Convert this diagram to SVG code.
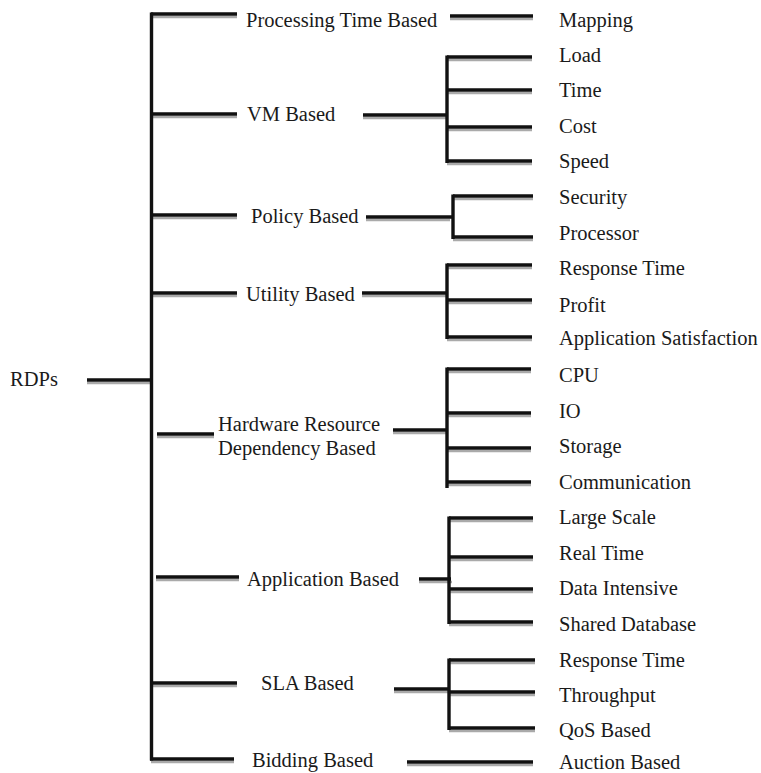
<svg xmlns="http://www.w3.org/2000/svg" width="761" height="773" viewBox="0 0 761 773">
  <style>
    text { font-family: "Liberation Serif", "Times New Roman", serif; font-size: 20.5px; fill: #1a1a1a; }
    .h { stroke: #111; stroke-width: 3.4; fill: none; }
    .sh { stroke: #aaa; stroke-width: 2.6; fill: none; }
    .v { stroke: #111; stroke-width: 3.4; fill: none; }
  </style>

  <g id="connectors">
    <!-- grey drop lines, 3px below each horizontal bar -->
    <path class="sh" d="
      M151 17 H237 M151 117 H237 M151 218 H237 M151 296 H237
      M87 383 H151 M157 437 H214 M156 580 H239 M151 686 H237 M151 762 H234
      M450 19 H533 M363 118 H447 M366 220 H450 M362 296 H447
      M393 433 H447 M419 582 H452 M394 692 H449 M407 765 H533
      M447 60 H532 M447 93 H532 M447 130 H532 M447 164 H532
      M453 199 H533 M453 240 H533
      M447 268 H532 M447 303 H532 M447 340 H532
      M447 372 H531 M447 416 H531 M447 451 H531 M447 485 H531
      M449 521 H533 M449 560 H533 M449 592 H533 M449 625 H533
      M449 663 H535 M449 695 H535 M449 731 H535"/>
    <!-- trunk -->
    <path class="v" d="M151.5 12.5 V760.5"/>
    <!-- first-level bars -->
    <path class="h" d="
      M151 14 H237 M151 114 H237 M151 215 H237 M151 293 H237
      M87 380 H151 M157 434 H214 M156 577 H239 M151 683 H237 M150 759 H234"/>
    <!-- second-level bars -->
    <path class="h" d="
      M450 16 H533 M363 115 H447 M366 217 H452 M362 293 H447
      M393 430 H447 M419 579 H451 M394 689 H449 M407 762 H533"/>
    <!-- brackets -->
    <path class="v" d="
      M447 55.5 V163 M453 194.5 V239 M447 263.5 V339 M447 367.5 V488
      M449 516.5 V624 M449 658.5 V730"/>
    <!-- leaf bars -->
    <path class="h" d="
      M447 57 H532 M447 90 H532 M447 127 H532 M447 161 H532
      M453 196 H533 M453 237 H533
      M447 265 H532 M447 300 H532 M447 337 H532
      M447 369 H531 M447 413 H531 M447 448 H531 M447 482 H531
      M449 518 H533 M449 557 H533 M449 589 H533 M449 622 H533
      M449 660 H535 M449 692 H535 M449 728 H535"/>
  </g>

  <g id="root"><text x="10" y="386">RDPs</text></g>

  <g id="processing-time"><text x="246" y="27">Processing Time Based</text></g>
  <g id="vm"><text x="247" y="121">VM Based</text></g>
  <g id="policy"><text x="251" y="223">Policy Based</text></g>
  <g id="utility"><text x="246" y="301">Utility Based</text></g>
  <g id="hardware"><text x="218" y="431">Hardware Resource</text><text x="218" y="455">Dependency Based</text></g>
  <g id="application"><text x="247" y="586">Application Based</text></g>
  <g id="sla"><text x="261" y="690">SLA Based</text></g>
  <g id="bidding"><text x="252" y="767">Bidding Based</text></g>

  <g id="leaves">
    <g id="mapping"><text x="559" y="27">Mapping</text></g>
    <g id="load"><text x="559" y="62">Load</text></g>
    <g id="time"><text x="559" y="97">Time</text></g>
    <g id="cost"><text x="559" y="133">Cost</text></g>
    <g id="speed"><text x="559" y="168">Speed</text></g>
    <g id="security"><text x="559" y="204">Security</text></g>
    <g id="processor"><text x="559" y="240">Processor</text></g>
    <g id="util-response"><text x="559" y="275">Response Time</text></g>
    <g id="profit"><text x="559" y="312">Profit</text></g>
    <g id="app-satisfaction"><text x="559" y="345">Application Satisfaction</text></g>
    <g id="cpu"><text x="559" y="382">CPU</text></g>
    <g id="io"><text x="559" y="418">IO</text></g>
    <g id="storage"><text x="559" y="453">Storage</text></g>
    <g id="communication"><text x="559" y="489">Communication</text></g>
    <g id="large-scale"><text x="559" y="524">Large Scale</text></g>
    <g id="real-time"><text x="559" y="560">Real Time</text></g>
    <g id="data-intensive"><text x="559" y="595">Data Intensive</text></g>
    <g id="shared-db"><text x="559" y="631">Shared Database</text></g>
    <g id="sla-response"><text x="559" y="667">Response Time</text></g>
    <g id="throughput"><text x="559" y="702">Throughput</text></g>
    <g id="qos"><text x="559" y="737">QoS Based</text></g>
    <g id="auction"><text x="559" y="769">Auction Based</text></g>
  </g>
</svg>
